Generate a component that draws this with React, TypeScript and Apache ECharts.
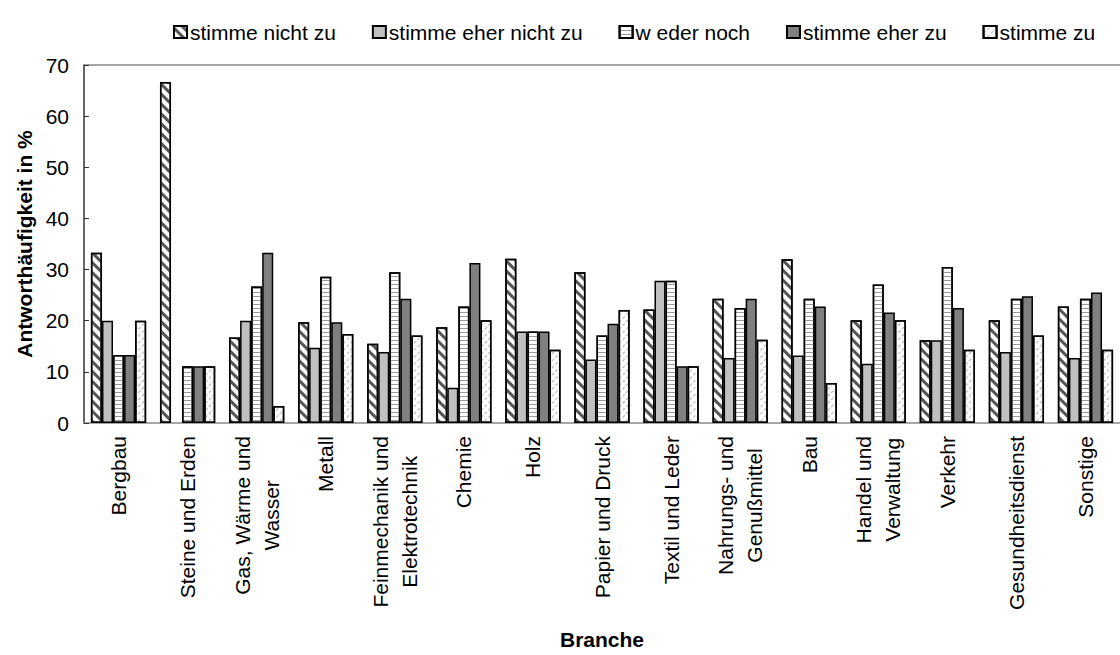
import React, { useEffect, useRef } from "react";
import * as echarts from "echarts";

const categories = [
  "Bergbau",
  "Steine und Erden",
  "Gas, Wärme und\nWasser",
  "Metall",
  "Feinmechanik und\nElektrotechnik",
  "Chemie",
  "Holz",
  "Papier und Druck",
  "Textil und Leder",
  "Nahrungs- und\nGenußmittel",
  "Bau",
  "Handel und\nVerwaltung",
  "Verkehr",
  "Gesundheitsdienst",
  "Sonstige",
];

const seriesNames = ["stimme nicht zu", "stimme eher nicht zu", "w eder noch", "stimme eher zu", "stimme zu"];

const stimmeNichtZu = [33.3, 66.7, 16.7, 19.7, 15.5, 18.7, 32.1, 29.5, 22.2, 24.3, 32.0, 20.1, 16.2, 20.1, 22.8];
const stimmeEherNichtZu = [20.0, 0, 20.0, 14.7, 13.9, 6.9, 17.9, 12.4, 27.8, 12.7, 13.2, 11.6, 16.2, 13.9, 12.7];
const wederNoch = [13.3, 11.1, 26.7, 28.6, 29.5, 22.8, 17.9, 17.1, 27.8, 22.5, 24.3, 27.1, 30.5, 24.3, 24.3];
const stimmeEherZu = [13.3, 11.1, 33.3, 19.7, 24.3, 31.3, 17.9, 19.4, 11.1, 24.3, 22.8, 21.6, 22.5, 24.8, 25.5];
const stimmeZu = [20.0, 11.1, 3.3, 17.4, 17.1, 20.1, 14.3, 22.1, 11.1, 16.3, 7.8, 20.1, 14.3, 17.1, 14.3];

const yTicks = [0, 10, 20, 30, 40, 50, 60, 70];

const FONT = "'Liberation Sans', Arial, sans-serif";

export default function App() {
  const ref = useRef<HTMLDivElement>(null);
  useEffect(() => {
    if (!ref.current) return;
    const chart = echarts.init(ref.current, undefined, { renderer: "svg" });
    const values = [stimmeNichtZu, stimmeEherNichtZu, wederNoch, stimmeEherZu, stimmeZu];
    const colors = ["#ffffff", "#c0c0c0", "#ffffff", "#808080", "#ffffff"];
    const decals: any[] = [
      { symbol: "rect", symbolSize: 1, dashArrayX: [1, 0], dashArrayY: [2.5, 3.5], rotation: Math.PI / 4, color: "#555555" },
      null,
      { symbol: "rect", symbolSize: 1, dashArrayX: [1, 0], dashArrayY: [1, 3], rotation: 0, color: "#9a9a9a" },
      null,
      { symbol: "rect", symbolSize: 1, dashArrayX: [3, 2], dashArrayY: [1, 4], rotation: -Math.PI / 4, color: "#b0b0b0" },
    ];
    const series = values.map((arr, i) => {
      const itemStyle: any = { color: colors[i], borderColor: "#000000", borderWidth: 1.5 };
      if (decals[i]) itemStyle.decal = decals[i];
      return {
        name: seriesNames[i],
        type: "bar",
        barGap: "0%",
        barCategoryGap: "20%",
        data: arr.map((v) => (v === 0 ? { value: v, itemStyle: { borderWidth: 0 } } : v)),
        itemStyle,
      };
    });
    chart.setOption({
      animation: false,
      legend: {
        top: 16,
        left: 168,
        itemWidth: 13,
        itemHeight: 12,
        itemGap: 36,
        icon: "rect",
        textStyle: { fontFamily: FONT, fontSize: 21, lineHeight: 22, color: "#000", padding: [0, 0, 0, -2] },
        data: seriesNames,
      },
      grid: { left: 84, right: 0, top: 65, bottom: 227, containLabel: false },
      xAxis: [
        {
          type: "category",
          data: categories,
          axisLine: { lineStyle: { color: "#888888", width: 1.5 } },
          axisTick: { show: false },
          axisLabel: {
            rotate: 90,
            interval: 0,
            margin: 13,
            formatter: (v: string) => v.split("\n").map((l) => `{c|${l}}`).join("\n"),
            rich: { c: { align: "center", fontFamily: FONT, fontSize: 21, color: "#000", lineHeight: 29 } },
          },
          name: "Branche",
          nameLocation: "middle",
          nameGap: 206,
          nameTextStyle: { fontFamily: FONT, fontSize: 21, fontWeight: "bold", color: "#000" },
        },
        {
          type: "category",
          position: "top",
          data: categories,
          axisLine: { lineStyle: { color: "#888888", width: 1.5 } },
          axisTick: { show: false },
          axisLabel: { show: false },
        },
      ],
      yAxis: {
        type: "value",
        min: 0,
        max: 70,
        interval: 10,
        axisLine: { show: true, lineStyle: { color: "#333333", width: 1.5 } },
        axisTick: { show: true, inside: true, length: 5, lineStyle: { color: "#333333" } },
        splitLine: { show: false },
        axisLabel: {
          fontFamily: FONT,
          fontSize: 21,
          color: "#000",
          margin: 15,
          formatter: (v: number) => (yTicks.includes(v) ? String(v) : ""),
        },
        name: "Antworthäufigkeit in %",
        nameLocation: "middle",
        nameGap: 48,
        nameTextStyle: { fontFamily: FONT, fontSize: 21, fontWeight: "bold", color: "#000" },
      },
      series,
    });
    return () => chart.dispose();
  }, []);
  return <div ref={ref} style={{ position: "fixed", left: 0, top: 0, width: 1120, height: 655, background: "#fff" }} />;
}
